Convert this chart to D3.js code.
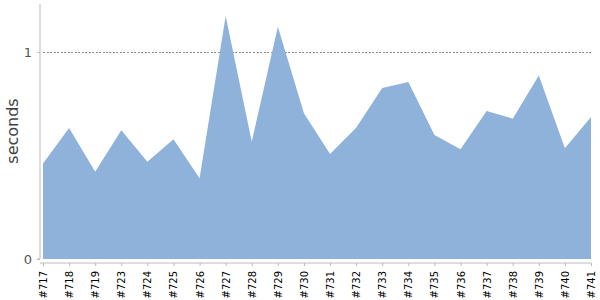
<!DOCTYPE html>
<html><head><meta charset="utf-8">
<script src="https://cdn.jsdelivr.net/npm/d3@7/dist/d3.min.js"></script>
<style>body{margin:0;background:#fff}svg{display:block}</style>
</head><body><div id="c"></div>
<script>
const categories = ["#717","#718","#719","#723","#724","#725","#726","#727","#728","#729","#730","#731","#732","#733","#734","#735","#736","#737","#738","#739","#740","#741"];
const seconds = [0.462,0.633,0.422,0.622,0.470,0.578,0.390,1.174,0.567,1.122,0.704,0.507,0.634,0.826,0.855,0.599,0.530,0.715,0.678,0.887,0.535,0.686];
const yTicks = [0, 1];
const yLabel = "seconds";

const W = 600, H = 300;
const svg = d3.select("#c").append("svg").attr("width", W).attr("height", H);
const x = d3.scalePoint().domain(categories).range([43, 591]).padding(0);
const y = d3.scaleLinear().domain([0, 1.232]).range([259, 4]);

// gridline at 1
svg.append("g").selectAll("line").data(yTicks.filter(d => d > 0)).join("line")
  .attr("x1", 43).attr("x2", 591).attr("y1", d => y(d)).attr("y2", d => y(d))
  .attr("stroke", "#888").attr("stroke-width", 1).attr("stroke-dasharray", "2,1.5")
  .attr("shape-rendering", "crispEdges");

const area = d3.area().x(d => x(d.c)).y0(y(0)).y1(d => y(d.v));
svg.append("path").datum(categories.map((c, i) => ({c, v: seconds[i]})))
  .attr("d", area).attr("fill", "#8fb2da");

// y axis
const ya = svg.append("g").attr("transform", "translate(40,0)")
  .call(d3.axisLeft(y).tickValues(yTicks).tickSize(3).tickPadding(5).tickFormat(d3.format("d")));
ya.select(".domain").attr("d", `M-3,${y(0)}H0V4`).attr("stroke", "#bbb");
ya.selectAll(".tick line").attr("stroke", "#bbb");
ya.selectAll("text").attr("font-family", "DejaVu Sans").attr("font-size", 13).attr("fill", "#555");

// x axis
const xa = svg.append("g").attr("transform", "translate(0,263)")
  .call(d3.axisBottom(x).tickSize(3).tickSizeOuter(0));
xa.select(".domain").attr("d", "M40,0H591").attr("stroke", "#bbb");
xa.selectAll(".tick line").attr("stroke", "#bbb");
xa.selectAll("text").attr("font-family", "DejaVu Sans").attr("font-size", 10).attr("fill", "#000")
  .attr("transform", "rotate(-90)").attr("text-anchor", "end").attr("dy", "0.35em")
  .attr("x", -8).attr("y", 0);

svg.append("text").attr("transform", "translate(18,131) rotate(-90)")
  .attr("text-anchor", "middle").attr("font-family", "DejaVu Sans").attr("font-size", 16)
  .attr("fill", "#444").text(yLabel);
</script></body></html>
